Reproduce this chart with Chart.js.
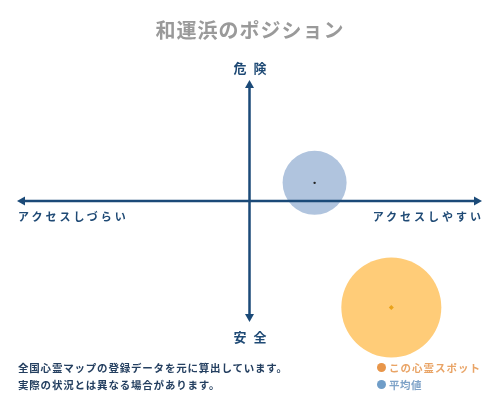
<!DOCTYPE html>
<html><head><meta charset="utf-8">
<script src="https://cdn.jsdelivr.net/npm/chart.js@4.4.1/dist/chart.umd.min.js"></script>
<style>
html,body{margin:0;padding:0;background:#fff;}
#wrap{position:relative;width:500px;height:400px;overflow:hidden;font-family:"Noto Sans CJK JP","Noto Sans",sans-serif;}
canvas{position:absolute;left:0;top:0;}
.t{position:absolute;white-space:nowrap;font-weight:bold;line-height:1;}
.dot{position:absolute;width:9px;height:9px;border-radius:50%;}
</style></head><body>
<div id="wrap">
<canvas id="c" width="500" height="400"></canvas>
<div class="t" id="title" style="left:250px;top:30px;transform:translate(-50%,-50%);font-size:20px;color:#9a9a9a;letter-spacing:1px;">和運浜のポジション</div>
<div class="t" id="top" style="left:250px;top:67px;transform:translate(-50%,-50%);font-size:13px;color:#1f4a75;letter-spacing:7px;padding-left:7px;"></div>
<div class="t" id="bottom" style="left:250px;top:336px;transform:translate(-50%,-50%);font-size:13px;color:#1f4a75;letter-spacing:7px;padding-left:7px;"></div>
<div class="t" id="left" style="left:18px;top:216px;transform:translateY(-50%);font-size:11px;color:#1f4a75;letter-spacing:3px;"></div>
<div class="t" id="right" style="right:19px;top:216px;transform:translateY(-50%);font-size:11px;color:#1f4a75;letter-spacing:3px;margin-right:-3px;"></div>
<div class="t" id="note1" style="left:18px;top:368px;transform:translateY(-50%);font-size:10.5px;color:#243f60;letter-spacing:0.8px;"></div>
<div class="t" id="note2" style="left:18px;top:385px;transform:translateY(-50%);font-size:10.5px;color:#243f60;letter-spacing:0.8px;"></div>
<div class="dot" style="left:377px;top:363px;background:#e8964a;"></div>
<div class="t" id="leg1" style="left:389px;top:368px;transform:translateY(-50%);font-size:10.5px;color:#e9a466;letter-spacing:1px;"></div>
<div class="dot" style="left:377px;top:380px;background:#6f9dc8;"></div>
<div class="t" id="leg2" style="left:389px;top:385px;transform:translateY(-50%);font-size:10.5px;color:#7fa3c8;letter-spacing:0.5px;"></div>
</div>
<script>
// ---- data ----
const chartTitle = "和運浜のポジション";
const axisLabels = ["危険", "安全", "アクセスしづらい", "アクセスしやすい"];
const notes = ["全国心霊マップの登録データを元に算出しています。", "実際の状況とは異なる場合があります。"];
const seriesNames = ["この心霊スポット", "平均値"];
const accessValues = [61, 28];     // x: access (easy +)
const dangerValues = [-88, 15];    // y: danger (danger +)
const bubbleSizes = [50, 32];

document.getElementById('title').textContent = chartTitle;
document.getElementById('top').textContent = axisLabels[0];
document.getElementById('bottom').textContent = axisLabels[1];
document.getElementById('left').textContent = axisLabels[2];
document.getElementById('right').textContent = axisLabels[3];
document.getElementById('note1').textContent = notes[0];
document.getElementById('note2').textContent = notes[1];
document.getElementById('leg1').textContent = seriesNames[0];
document.getElementById('leg2').textContent = seriesNames[1];

const axisColor = '#1b4a78';
const crossAxes = {
  id: 'crossAxes',
  afterDatasetsDraw(chart) {
    const ctx = chart.ctx, xs = chart.scales.x, ys = chart.scales.y;
    const x0 = xs.getPixelForValue(0), y0 = ys.getPixelForValue(0);
    const L = xs.getPixelForValue(xs.min), R = xs.getPixelForValue(xs.max);
    const T = ys.getPixelForValue(ys.max), B = ys.getPixelForValue(ys.min);
    ctx.save();
    ctx.strokeStyle = axisColor; ctx.fillStyle = axisColor; ctx.lineWidth = 2.5;
    ctx.beginPath();
    ctx.moveTo(L + 6, y0); ctx.lineTo(R - 6, y0);
    ctx.moveTo(x0, T + 6); ctx.lineTo(x0, B - 6);
    ctx.stroke();
    const tri = (a, b, c) => { ctx.beginPath(); ctx.moveTo(a[0], a[1]); ctx.lineTo(b[0], b[1]); ctx.lineTo(c[0], c[1]); ctx.closePath(); ctx.fill(); };
    tri([L, y0], [L + 8, y0 - 4.5], [L + 8, y0 + 4.5]);
    tri([R, y0], [R - 8, y0 - 4.5], [R - 8, y0 + 4.5]);
    tri([x0, T], [x0 - 4.5, T + 8], [x0 + 4.5, T + 8]);
    tri([x0, B], [x0 - 4.5, B - 8], [x0 + 4.5, B - 8]);
    ctx.restore();
  }
};

const pts = accessValues.map((x, i) => ({ x: x, y: dangerValues[i], r: bubbleSizes[i] }));

new Chart(document.getElementById('c'), {
  type: 'bubble',
  data: {
    datasets: [
      { label: seriesNames[0], data: [pts[0]], backgroundColor: 'rgb(255,204,120)', borderWidth: 0, clip: false, order: 1 },
      { label: seriesNames[1], data: [pts[1]], backgroundColor: 'rgb(176,196,222)', borderWidth: 0, clip: false, order: 1 },
      { type: 'scatter', label: 'c1', data: [{ x: pts[0].x, y: pts[0].y }], pointStyle: 'rectRot', pointRadius: 2.5, backgroundColor: '#eaa21a', borderWidth: 0, clip: false, order: 0 },
      { type: 'scatter', label: 'c2', data: [{ x: pts[1].x, y: pts[1].y }], pointRadius: 1.2, backgroundColor: '#222', borderWidth: 0, clip: false, order: 0 }
    ]
  },
  options: {
    responsive: false,
    animation: false,
    devicePixelRatio: 1,
    layout: { autoPadding: false, padding: { left: 17, right: 18, top: 80, bottom: 78 } },
    plugins: { legend: { display: false }, tooltip: { enabled: false }, title: { display: false } },
    scales: {
      x: { display: false, min: -100, max: 100 },
      y: { display: false, min: -100, max: 100 }
    }
  },
  plugins: [crossAxes]
});
</script>
</body></html>
